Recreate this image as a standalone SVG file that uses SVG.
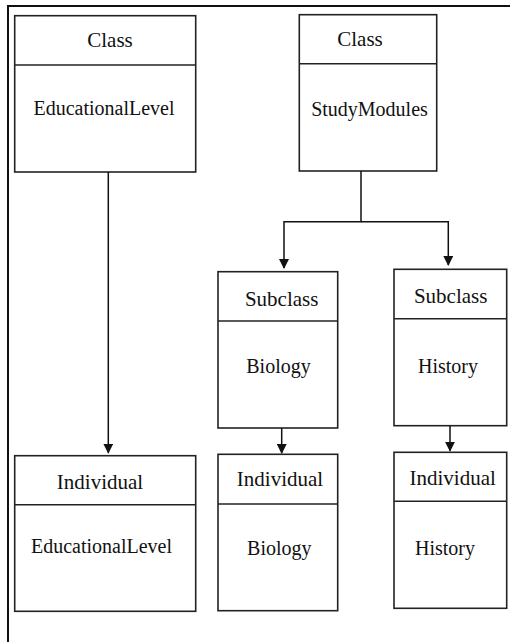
<svg xmlns="http://www.w3.org/2000/svg" width="510" height="642" viewBox="0 0 510 642">
<style>
.box{fill:#fff;stroke:#222;stroke-width:1.6}
.div{stroke:#222;stroke-width:1.6}
text{font-family:'Liberation Serif','Times New Roman',Tinos,'DejaVu Serif',serif;fill:#111;text-anchor:middle}
.h{font-size:21px}
.b{font-size:20px}
.c{fill:none;stroke:#111;stroke-width:1.5}
</style>
<defs>
<marker id="arr" markerWidth="10" markerHeight="10" refX="9" refY="5" orient="auto" markerUnits="userSpaceOnUse">
<path d="M0,0 L10,5 L0,10 Z" fill="#111"/>
</marker>
</defs>
<rect x="0" y="0" width="510" height="642" fill="#fff"/>
<rect x="8" y="6" width="700" height="800" fill="none" stroke="#111" stroke-width="2"/>
<g id="class-educationallevel">
<rect class="box" x="14.7" y="15.7" width="181" height="156.3"/>
<line class="div" x1="14.7" y1="65" x2="195.7" y2="65"/>
<text class="h" x="110" y="47" font-family="Liberation Serif, serif">Class</text>
<text class="b" x="104" y="115" font-family="Liberation Serif, serif">EducationalLevel</text>
</g>
<g id="class-studymodules">
<rect class="box" x="299.3" y="14.7" width="137.4" height="156.3"/>
<line class="div" x1="299.3" y1="63.7" x2="436.7" y2="63.7"/>
<text class="h" x="360" y="46" font-family="Liberation Serif, serif">Class</text>
<text class="b" x="369.5" y="116" font-family="Liberation Serif, serif">StudyModules</text>
</g>
<g id="subclass-biology">
<rect class="box" x="218" y="271.7" width="119.7" height="156.3"/>
<line class="div" x1="218" y1="321" x2="337.7" y2="321"/>
<text class="h" x="281.7" y="306" font-family="Liberation Serif, serif">Subclass</text>
<text class="b" x="278.5" y="373" font-family="Liberation Serif, serif">Biology</text>
</g>
<g id="subclass-history">
<rect class="box" x="394" y="269.3" width="112.7" height="156.4"/>
<line class="div" x1="394" y1="318.7" x2="506.7" y2="318.7"/>
<text class="h" x="450.7" y="303" font-family="Liberation Serif, serif">Subclass</text>
<text class="b" x="448" y="373" font-family="Liberation Serif, serif">History</text>
</g>
<g id="individual-educationallevel">
<rect class="box" x="14.7" y="455.7" width="181" height="155.6"/>
<line class="div" x1="14.7" y1="504.7" x2="195.7" y2="504.7"/>
<text class="h" x="100" y="489" font-family="Liberation Serif, serif">Individual</text>
<text class="b" x="101.5" y="553" font-family="Liberation Serif, serif">EducationalLevel</text>
</g>
<g id="individual-biology">
<rect class="box" x="218" y="454.3" width="119.7" height="156.4"/>
<line class="div" x1="218" y1="504" x2="337.7" y2="504"/>
<text class="h" x="280" y="486" font-family="Liberation Serif, serif">Individual</text>
<text class="b" x="279.3" y="555" font-family="Liberation Serif, serif">Biology</text>
</g>
<g id="individual-history">
<rect class="box" x="394" y="452.3" width="112.7" height="156"/>
<line class="div" x1="394" y1="501.3" x2="506.7" y2="501.3"/>
<text class="h" x="452.7" y="485" font-family="Liberation Serif, serif">Individual</text>
<text class="b" x="445" y="555" font-family="Liberation Serif, serif">History</text>
</g>
<g id="connectors">
<path class="c" d="M108.3,172 V452.7" marker-end="url(#arr)"/>
<path class="c" d="M361,171 V221.7 H284 V268" marker-end="url(#arr)"/>
<path class="c" d="M361,221.7 H448.3 V265" marker-end="url(#arr)"/>
<path class="c" d="M281.7,428 V453" marker-end="url(#arr)"/>
<path class="c" d="M450,425.7 V450.7" marker-end="url(#arr)"/>
</g>
</svg>
